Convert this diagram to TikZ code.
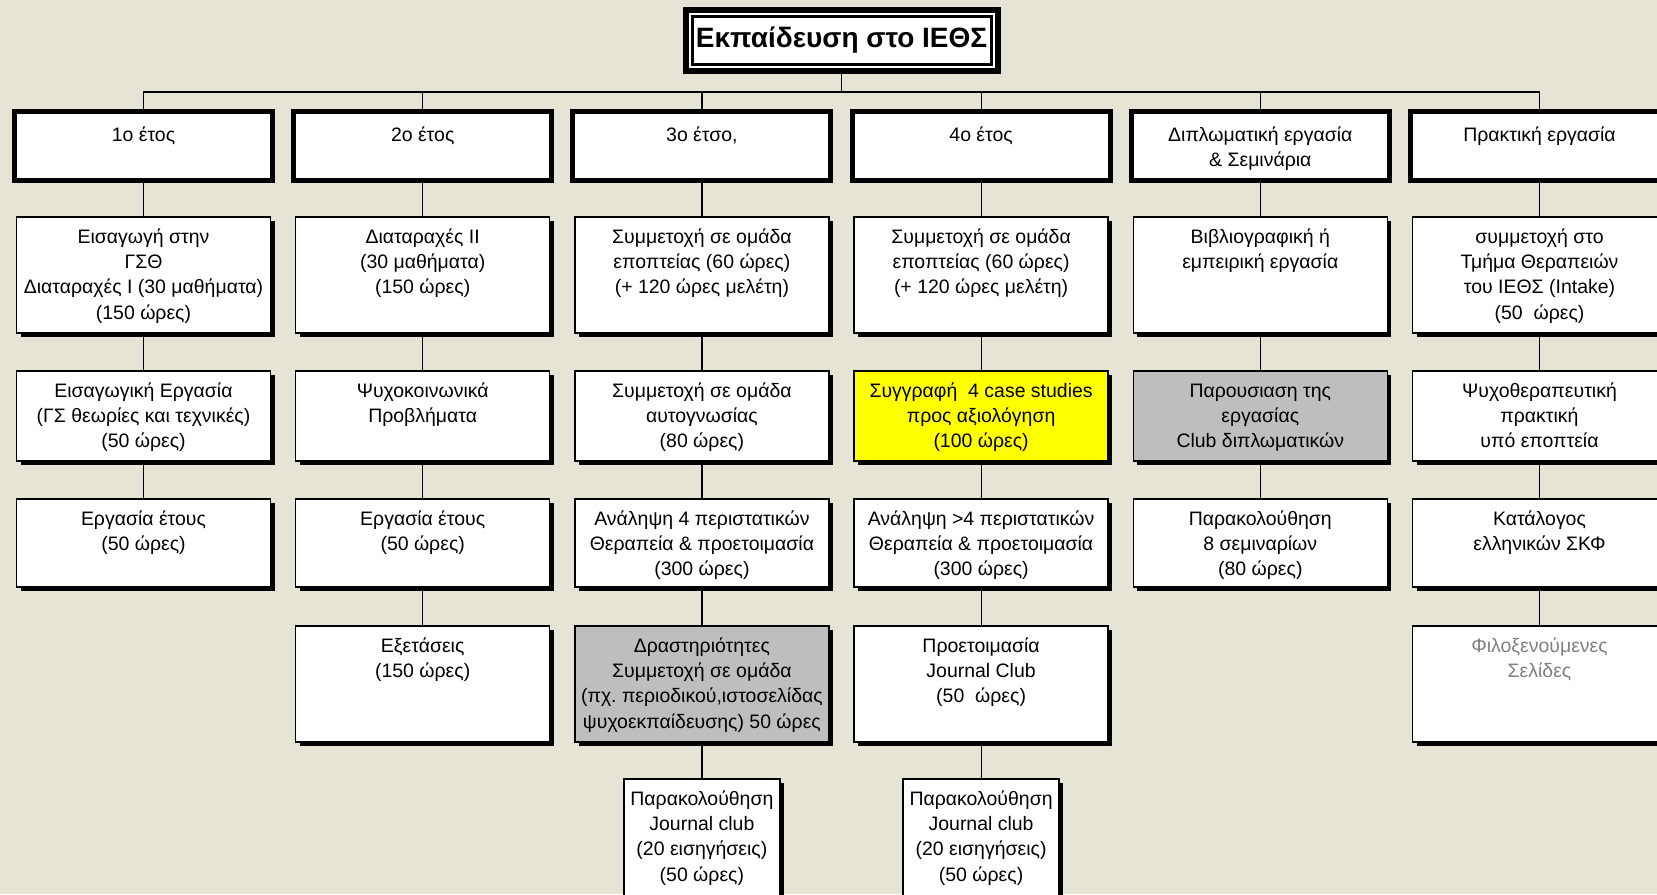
\documentclass[tikz,border=0pt]{standalone}
\usepackage{fontspec}
\setmainfont{Liberation Sans}
\usetikzlibrary{shadows}
\frenchspacing
\definecolor{bg}{RGB}{230,228,213}
\definecolor{boxgray}{RGB}{190,190,190}
\definecolor{txtgray}{RGB}{128,128,128}
\definecolor{hiyellow}{RGB}{255,255,0}
\tikzset{
  titlebox/.style={draw=black, line width=8.25pt, fill=white, minimum width=230.25pt, minimum height=42pt, inner sep=0pt, outer sep=0pt, font=\fontsize{21}{25}\selectfont\bfseries, drop shadow={shadow xshift=2pt, shadow yshift=-2pt, fill=black!60, opacity=1}},
  yearbox/.style={draw=black, line width=3.75pt, fill=white, minimum width=193.5pt, minimum height=51.75pt, inner sep=0pt, outer sep=0pt},
  lvlbox/.style={draw=black, line width=1.1pt, fill=white, minimum width=190.5pt, inner sep=0pt, outer sep=0pt, drop shadow={shadow xshift=3pt, shadow yshift=-3pt, fill=black, opacity=1}},
  smallbox/.style={lvlbox, minimum width=117pt},
  graybox/.style={lvlbox, fill=boxgray},
  yellowbox/.style={lvlbox, fill=hiyellow},
  txt/.style={anchor=north, align=center, inner sep=0pt, outer sep=0pt, font=\fontsize{14.6}{19}\selectfont},
  conn/.style={draw=black, line width=0.9pt},
}
\begin{document}
\begin{tikzpicture}[x=0.75pt,y=-0.75pt]
\useasboundingbox (0,0) rectangle (1657,894);
\fill[bg] (0,0) rectangle (1657,894);
\clip (0,0) rectangle (1657,894);
% title
\node[titlebox] (title) at (841.5,40.5) {\raisebox{1pt}{Εκπαίδευση στο ΙΕΘΣ}};
\draw[white, line width=1.5pt] ([shift={(1.5,1.5)}]title.north west) rectangle ([shift={(-1.5,-1.5)}]title.south east);
\coordinate (bus) at (0,92);
% year boxes
\foreach \k/\x in {1/143.5,2/422.7,3/701.9,4/981.1,5/1260.3,6/1539.5}{
  \node[yearbox] (c\k y) at (\x,146) {};
}
\node[txt] (c1y-t) at ([yshift=-9.3pt]c1y.north) {\strut 1ο έτος};
\node[txt] (c2y-t) at ([yshift=-9.3pt]c2y.north) {\strut 2ο έτος};
\node[txt] (c3y-t) at ([yshift=-9.3pt]c3y.north) {\strut 3ο έτσο,};
\node[txt] (c4y-t) at ([yshift=-9.3pt]c4y.north) {\strut 4ο έτος};
\node[txt] (c5y-t) at ([yshift=-9.3pt]c5y.north) {\strut Διπλωματική εργασία\\\strut \& Σεμινάρια};
\node[txt] (c6y-t) at ([yshift=-9.3pt]c6y.north) {\strut Πρακτική εργασία};
% column 1
\node[lvlbox, minimum height=87pt] (c1a) at (143.5,275) {};
\node[lvlbox, minimum height=67.5pt] (c1b) at (143.5,416) {};
\node[lvlbox, minimum height=66pt] (c1c) at (143.5,543) {};
% column 2
\node[lvlbox, minimum height=87pt] (c2a) at (422.7,275) {};
\node[lvlbox, minimum height=67.5pt] (c2b) at (422.7,416) {};
\node[lvlbox, minimum height=66pt] (c2c) at (422.7,543) {};
\node[lvlbox, minimum height=87pt] (c2d) at (422.7,684) {};
% column 3
\node[lvlbox, minimum height=87pt] (c3a) at (701.9,275) {};
\node[lvlbox, minimum height=67.5pt] (c3b) at (701.9,416) {};
\node[lvlbox, minimum height=66pt] (c3c) at (701.9,543) {};
\node[graybox, minimum height=87pt] (c3d) at (701.9,684) {};
\node[smallbox, minimum height=105pt] (c3e) at (701.9,849) {};
% column 4
\node[lvlbox, minimum height=87pt] (c4a) at (981.1,275) {};
\node[yellowbox, minimum height=67.5pt] (c4b) at (981.1,416) {};
\node[lvlbox, minimum height=66pt] (c4c) at (981.1,543) {};
\node[lvlbox, minimum height=87pt] (c4d) at (981.1,684) {};
\node[smallbox, minimum height=105pt] (c4e) at (981.1,849) {};
% column 5
\node[lvlbox, minimum height=87pt] (c5a) at (1260.3,275) {};
\node[graybox, minimum height=67.5pt] (c5b) at (1260.3,416) {};
\node[lvlbox, minimum height=66pt] (c5c) at (1260.3,543) {};
% column 6
\node[lvlbox, minimum height=87pt] (c6a) at (1539.5,275) {};
\node[lvlbox, minimum height=67.5pt] (c6b) at (1539.5,416) {};
\node[lvlbox, minimum height=66pt] (c6c) at (1539.5,543) {};
\node[lvlbox, minimum height=87pt] (c6d) at (1539.5,684) {};
% texts
\node[txt] (c1a-t) at ([yshift=-6.3pt]c1a.north) {\strut Εισαγωγή στην\\\strut ΓΣΘ\\\strut Διαταραχές Ι (30 μαθήματα)\\\strut (150 ώρες)};
\node[txt] (c1b-t) at ([yshift=-6.3pt]c1b.north) {\strut Εισαγωγική Εργασία\\\strut (ΓΣ θεωρίες και τεχνικές)\\\strut (50 ώρες)};
\node[txt] (c1c-t) at ([yshift=-6.3pt]c1c.north) {\strut Εργασία έτους\\\strut (50 ώρες)};
\node[txt] (c2a-t) at ([yshift=-6.3pt]c2a.north) {\strut Διαταραχές ΙΙ\\\strut (30 μαθήματα)\\\strut (150 ώρες)};
\node[txt] (c2b-t) at ([yshift=-6.3pt]c2b.north) {\strut Ψυχοκοινωνικά\\\strut Προβλήματα};
\node[txt] (c2c-t) at ([yshift=-6.3pt]c2c.north) {\strut Εργασία έτους\\\strut (50 ώρες)};
\node[txt] (c2d-t) at ([yshift=-6.3pt]c2d.north) {\strut Εξετάσεις\\\strut (150 ώρες)};
\node[txt] (c3a-t) at ([yshift=-6.3pt]c3a.north) {\strut Συμμετοχή σε ομάδα\\\strut εποπτείας (60 ώρες)\\\strut (+ 120 ώρες μελέτη)};
\node[txt] (c3b-t) at ([yshift=-6.3pt]c3b.north) {\strut Συμμετοχή σε ομάδα\\\strut αυτογνωσίας\\\strut (80 ώρες)};
\node[txt] (c3c-t) at ([yshift=-6.3pt]c3c.north) {\strut Ανάληψη 4 περιστατικών\\\strut Θεραπεία \& προετοιμασία\\\strut (300 ώρες)};
\node[txt] (c3d-t) at ([yshift=-6.3pt]c3d.north) {\strut Δραστηριότητες\\\strut Συμμετοχή σε ομάδα\\\strut (πχ. περιοδικού,ιστοσελίδας\\\strut ψυχοεκπαίδευσης) 50 ώρες};
\node[txt] (c3e-t) at ([yshift=-6.3pt]c3e.north) {\strut Παρακολούθηση\\\strut Journal club\\\strut (20 εισηγήσεις)\\\strut (50 ώρες)};
\node[txt] (c4a-t) at ([yshift=-6.3pt]c4a.north) {\strut Συμμετοχή σε ομάδα\\\strut εποπτείας (60 ώρες)\\\strut (+ 120 ώρες μελέτη)};
\node[txt] (c4b-t) at ([yshift=-6.3pt]c4b.north) {\strut Συγγραφή\ \ 4 case studies\\\strut προς αξιολόγηση\\\strut (100 ώρες)};
\node[txt] (c4c-t) at ([yshift=-6.3pt]c4c.north) {\strut Ανάληψη >4 περιστατικών\\\strut Θεραπεία \& προετοιμασία\\\strut (300 ώρες)};
\node[txt] (c4d-t) at ([yshift=-6.3pt]c4d.north) {\strut Προετοιμασία\\\strut Journal Club\\\strut (50\ \ ώρες)};
\node[txt] (c4e-t) at ([yshift=-6.3pt]c4e.north) {\strut Παρακολούθηση\\\strut Journal club\\\strut (20 εισηγήσεις)\\\strut (50 ώρες)};
\node[txt] (c5a-t) at ([yshift=-6.3pt]c5a.north) {\strut Βιβλιογραφική ή\\\strut εμπειρική εργασία};
\node[txt] (c5b-t) at ([yshift=-6.3pt]c5b.north) {\strut Παρουσιαση της\\\strut εργασίας\\\strut Club διπλωματικών};
\node[txt] (c5c-t) at ([yshift=-6.3pt]c5c.north) {\strut Παρακολούθηση\\\strut 8 σεμιναρίων\\\strut (80 ώρες)};
\node[txt] (c6a-t) at ([yshift=-6.3pt]c6a.north) {\strut συμμετοχή στο\\\strut Τμήμα Θεραπειών\\\strut του ΙΕΘΣ (Intake)\\\strut (50\ \ ώρες)};
\node[txt] (c6b-t) at ([yshift=-6.3pt]c6b.north) {\strut Ψυχοθεραπευτική\\\strut πρακτική\\\strut υπό εποπτεία};
\node[txt] (c6c-t) at ([yshift=-6.3pt]c6c.north) {\strut Κατάλογος\\\strut ελληνικών ΣΚΦ};
\node[txt, text=txtgray] (c6d-t) at ([yshift=-6.3pt]c6d.north) {\strut Φιλοξενούμενες\\\strut Σελίδες};
% connectors
\draw[conn] (title) -- (title.south |- bus);
\draw[conn] (c1y) |- (c6y.north |- bus) -- (c6y);
\foreach \k in {2,3,4,5}{ \draw[conn] (c\k y) -- (c\k y.north |- bus); }
\draw[conn] (c1y) -- (c1a) -- (c1b) -- (c1c);
\draw[conn] (c2y) -- (c2a) -- (c2b) -- (c2c) -- (c2d);
\draw[conn] (c3y) -- (c3a) -- (c3b) -- (c3c) -- (c3d) -- (c3e);
\draw[conn] (c4y) -- (c4a) -- (c4b) -- (c4c) -- (c4d) -- (c4e);
\draw[conn] (c5y) -- (c5a) -- (c5b) -- (c5c);
\draw[conn] (c6y) -- (c6a) -- (c6b) -- (c6c) -- (c6d);
\end{tikzpicture}
\end{document}
